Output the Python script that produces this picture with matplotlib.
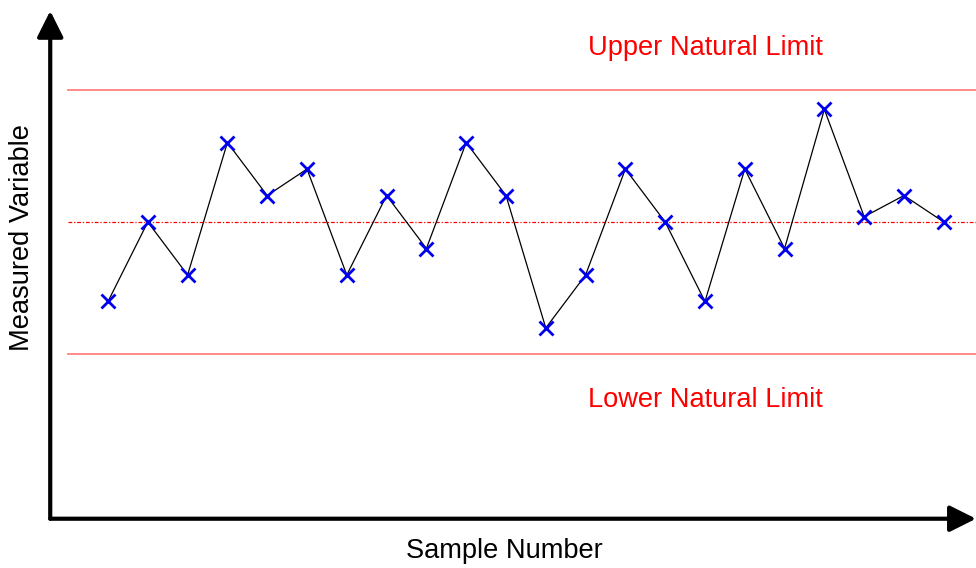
import matplotlib
matplotlib.use("Agg")
import matplotlib.pyplot as plt
from matplotlib.patches import FancyArrowPatch

plt.rcParams['font.family'] = ['Liberation Sans', 'DejaVu Sans']

# data
samples = list(range(1, 23))
values = [-3, 0, -2, 3, 1, 2, -2, 1, -1, 3, 1, -4, -2, 2, 0, -3, 2, -1, 4.25, 0.2, 1, 0]
center = 0
upper_limit = 5
lower_limit = -5

fig = plt.figure(figsize=(9.76, 5.68), dpi=100)
ax = fig.add_axes([0, 0, 1, 1])
ax.set_xlim(-1.714, 22.81)
ax.set_ylim(-13.06, 8.38)
ax.axis('off')

# limit lines
ax.plot([0, 22.81], [upper_limit, upper_limit], color='#ff7f7f', lw=1.3)
ax.plot([0, 22.81], [lower_limit, lower_limit], color='#ff7f7f', lw=1.3)
ax.plot([0, 22.81], [center, center], color='red', lw=0.9,
        linestyle=(0, (3, 1.5, 1, 1.5)))

# measurements
ax.plot(samples, values, color='black', lw=0.9, zorder=3)
ax.plot(samples, values, linestyle='none', marker='x', color='#0000ee',
        markersize=9.5, markeredgewidth=2, zorder=4)

# axes arrows
yax = FancyArrowPatch((-0.452, -11.2), (-0.452, 7.97), arrowstyle='-|>,head_length=16,head_width=8',
                      mutation_scale=1, color='black', lw=3, shrinkA=0, shrinkB=0)
xax = FancyArrowPatch((-0.452, -11.2), (22.81, -11.2), arrowstyle='-|>,head_length=16,head_width=8',
                      mutation_scale=1, color='black', lw=3, shrinkA=0, shrinkB=0)
ax.add_patch(yax)
ax.add_patch(xax)

# labels
ax.text(16.0, 6.55, 'Upper Natural Limit', color='red', fontsize=19.6, ha='center', va='center')
ax.text(16.0, -6.73, 'Lower Natural Limit', color='red', fontsize=19.6, ha='center', va='center')
ax.text(10.97, -12.4, 'Sample Number', fontsize=19.6, ha='center', va='center')
ax.text(-1.16, -0.6, 'Measured Variable', fontsize=19.6, ha='center', va='center', rotation=90)

fig.savefig('out.png', dpi=100)
